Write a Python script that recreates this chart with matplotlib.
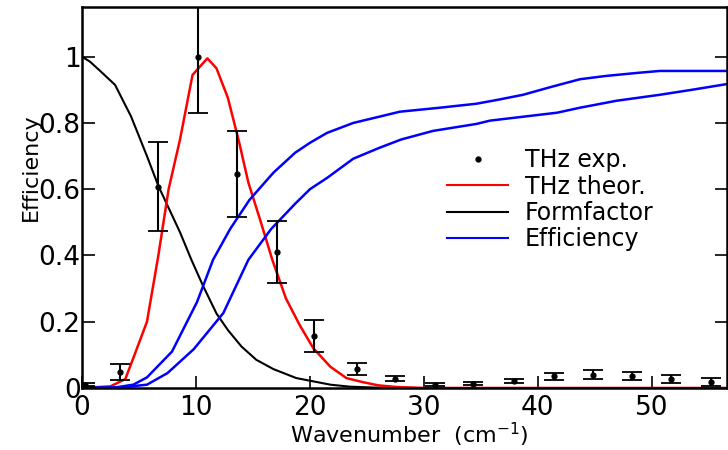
import matplotlib
matplotlib.use("Agg")
import matplotlib.pyplot as plt
from matplotlib.lines import Line2D

plt.rcParams.update({
    "font.family": "DejaVu Sans",
    "xtick.direction": "in",
    "ytick.direction": "in",
})

# THz exp. (points with error bars)
exp_x = [0.3, 3.3, 6.7, 10.2, 13.6, 17.1, 20.4, 24.1, 27.5, 31.0, 34.3, 37.9,
         41.4, 44.8, 48.3, 51.7, 55.2]
exp_y = [0.01, 0.048, 0.608, 1.0, 0.646, 0.41, 0.157, 0.057, 0.028, 0.01,
         0.013, 0.022, 0.035, 0.04, 0.035, 0.027, 0.018]
exp_err = [0.005, 0.025, 0.135, 0.17, 0.131, 0.094, 0.047, 0.018, 0.008, 0.004,
           0.005, 0.006, 0.01, 0.013, 0.012, 0.012, 0.011]

# THz theor.
theo_x = [0, 2.5, 3.8, 4.5, 5.7, 6.7, 7.6, 8.6, 9.7, 11.0, 11.8, 12.8, 13.8,
          14.6, 15.7, 16.7, 17.9, 19.1, 20.3, 21.8, 23.2, 24.6, 26.0, 27.6, 30, 57]
theo_y = [0, 0.005, 0.027, 0.09, 0.2, 0.4, 0.6, 0.75, 0.945, 0.995, 0.965, 0.876,
          0.74, 0.62, 0.5, 0.387, 0.27, 0.19, 0.12, 0.064, 0.03, 0.018, 0.008,
          0.003, 0, 0]

# Formfactor
ff_x = [0, 0.7, 1.5, 2.9, 4.3, 5.7, 6.7, 8.6, 9.6, 10.6, 11.8, 12.8, 14.0,
        15.3, 16.8, 18.8, 20.0, 21.8, 23.5, 26, 30, 57]
ff_y = [1.0, 0.985, 0.96, 0.915, 0.82, 0.70, 0.61, 0.47, 0.387, 0.31, 0.225,
        0.175, 0.125, 0.085, 0.057, 0.03, 0.022, 0.01, 0.004, 0.001, 0, 0]

# Efficiency (two curves)
eff1_x = [0, 3.0, 4.5, 5.7, 7.9, 10.1, 11.5, 13.0, 14.7, 16.8, 18.7, 20.0,
          21.5, 23.8, 26.1, 27.9, 31.4, 34.6, 36.5, 38.7, 41.3, 43.7, 46.0,
          48.7, 50.7, 56.7]
eff1_y = [0, 0.002, 0.01, 0.032, 0.11, 0.26, 0.387, 0.48, 0.568, 0.65, 0.71,
          0.74, 0.77, 0.80, 0.819, 0.834, 0.846, 0.858, 0.87, 0.885, 0.91,
          0.932, 0.942, 0.951, 0.957, 0.957]
eff2_x = [0, 3.5, 5.7, 7.5, 9.8, 12.4, 14.6, 16.6, 18.7, 20.0, 21.5, 23.8,
          26.1, 28.0, 30.8, 34.6, 35.8, 38.5, 41.7, 43.7, 46.9, 50.7, 53.5, 56.7]
eff2_y = [0, 0.002, 0.01, 0.045, 0.117, 0.226, 0.387, 0.48, 0.556, 0.6, 0.634,
          0.692, 0.725, 0.75, 0.776, 0.797, 0.807, 0.818, 0.831, 0.846, 0.867,
          0.885, 0.9, 0.918]

fig = plt.figure(figsize=(7.28, 4.5), dpi=100)
ax = fig.add_axes([82 / 728, 62 / 450, 645 / 728, 381 / 450])

ax.plot(ff_x, ff_y, color="black", lw=1.5)
ax.plot(theo_x, theo_y, color="red", lw=1.8)
ax.plot(eff1_x, eff1_y, color="blue", lw=1.8)
ax.plot(eff2_x, eff2_y, color="blue", lw=1.8)
ax.errorbar(exp_x, exp_y, yerr=exp_err, fmt="o", color="black", ms=3.5,
            elinewidth=1.5, capsize=7, capthick=1.3)

ax.set_xlim(0, 56.6)
ax.set_ylim(0, 1.15)
ax.set_xticks([0, 10, 20, 30, 40, 50])
ax.set_yticks([0, 0.2, 0.4, 0.6, 0.8, 1.0])
ax.set_yticklabels(["0", "0.2", "0.4", "0.6", "0.8", "1"])
ax.tick_params(labelsize=19, length=9, width=1.2)
ax.tick_params(axis="y", pad=1, right=True)
ax.tick_params(axis="x", pad=5)
for s in ax.spines.values():
    s.set_linewidth(1.8)

ax.set_xlabel("Wavenumber  (cm$^{-1}$)", fontsize=16)
ax.xaxis.set_label_coords(0.508, -0.085)
ax.set_ylabel("Efficiency", fontsize=16)
ax.yaxis.set_label_coords(-0.064, 0.58)

handles = [
    Line2D([], [], color="black", marker="o", ms=3.5, ls="none"),
    Line2D([], [], color="red", lw=1.5),
    Line2D([], [], color="black", lw=1.5),
    Line2D([], [], color="blue", lw=1.5),
]
labels = ["THz exp.", "THz theor.", "Formfactor", "Efficiency"]
ax.legend(handles, labels, loc="upper left", bbox_to_anchor=(0.533, 0.685),
          frameon=False, fontsize=17, handlelength=2.6, labelspacing=0.1,
          handletextpad=0.7)

fig.savefig("out.png", dpi=100)
